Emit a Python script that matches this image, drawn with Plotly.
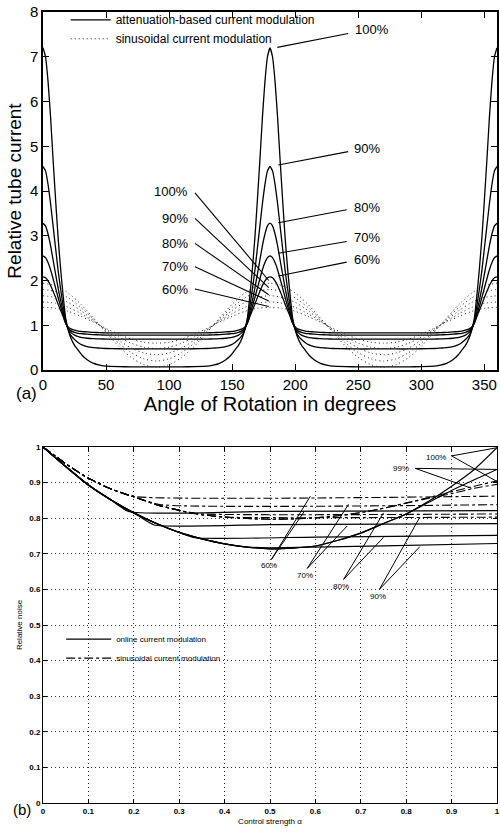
import plotly.graph_objects as go

FONT = "Liberation Sans, Arial, Helvetica, sans-serif"

# ---------------- panel (a) data: one quarter period (0..90 deg), peak at 0 ----------------
quarter_angle = [0, 2, 4, 6, 8, 10, 12, 14, 16, 18, 20, 22, 25, 28, 31, 35, 40, 45, 50, 60, 70, 80, 90]
att_100 = [7.2, 7.0, 6.45, 5.65, 4.7, 3.8, 2.95, 2.25, 1.65, 1.15, 0.9, 0.72, 0.55, 0.44, 0.33, 0.23, 0.15, 0.11, 0.085, 0.075, 0.07, 0.07, 0.07]
att_90 = [4.55, 4.45, 4.15, 3.72, 3.22, 2.72, 2.22, 1.8, 1.42, 1.1, 0.9, 0.78, 0.68, 0.61, 0.56, 0.52, 0.5, 0.49, 0.48, 0.475, 0.47, 0.47, 0.47]
att_80 = [3.28, 3.22, 3.04, 2.78, 2.46, 2.14, 1.83, 1.55, 1.3, 1.07, 0.92, 0.84, 0.78, 0.745, 0.725, 0.71, 0.7, 0.695, 0.69, 0.69, 0.69, 0.69, 0.69]
att_70 = [2.55, 2.51, 2.4, 2.24, 2.04, 1.83, 1.62, 1.42, 1.23, 1.05, 0.94, 0.88, 0.84, 0.82, 0.81, 0.8, 0.79, 0.785, 0.78, 0.78, 0.78, 0.78, 0.78]
att_60 = [2.08, 2.06, 1.99, 1.89, 1.76, 1.62, 1.47, 1.33, 1.19, 1.04, 0.96, 0.92, 0.89, 0.87, 0.86, 0.85, 0.84, 0.835, 0.83, 0.83, 0.83, 0.83, 0.83]

sin_angle = [0, 10, 20, 30, 40, 45, 50, 60, 70, 80, 90]
sin_100 = [1.94, 1.88, 1.72, 1.47, 1.16, 1.0, 0.84, 0.53, 0.28, 0.12, 0.06]
sin_90 = [1.8, 1.75, 1.61, 1.4, 1.14, 1.0, 0.86, 0.6, 0.39, 0.25, 0.2]
sin_80 = [1.66, 1.62, 1.51, 1.33, 1.11, 1.0, 0.89, 0.67, 0.49, 0.38, 0.34]
sin_70 = [1.52, 1.49, 1.4, 1.26, 1.09, 1.0, 0.91, 0.74, 0.6, 0.51, 0.48]
sin_60 = [1.4, 1.38, 1.31, 1.2, 1.07, 1.0, 0.93, 0.8, 0.69, 0.62, 0.6]

levels = ["100%", "90%", "80%", "70%", "60%"]

# ---------------- panel (b) data ----------------
alpha = [0, 0.05, 0.1, 0.15, 0.2, 0.25, 0.3, 0.35, 0.4, 0.45, 0.5, 0.55, 0.6, 0.65, 0.7, 0.75, 0.8, 0.85, 0.9, 0.95, 1.0]
online_100 = [1.0, 0.945, 0.893, 0.851, 0.815, 0.785, 0.76, 0.742, 0.728, 0.719, 0.714, 0.716, 0.722, 0.738, 0.758, 0.785, 0.812, 0.848, 0.89, 0.937, 0.998]
online_99 = [1.0, 0.945, 0.893, 0.851, 0.815, 0.785, 0.76, 0.742, 0.728, 0.719, 0.714, 0.716, 0.722, 0.738, 0.758, 0.785, 0.812, 0.845, 0.878, 0.908, 0.937]
sinus_100 = [1.0, 0.953, 0.912, 0.882, 0.86, 0.838, 0.822, 0.81, 0.803, 0.799, 0.797, 0.798, 0.801, 0.807, 0.816, 0.828, 0.843, 0.858, 0.874, 0.89, 0.905]
sinus_99 = [1.0, 0.953, 0.912, 0.882, 0.86, 0.838, 0.822, 0.81, 0.803, 0.799, 0.797, 0.798, 0.801, 0.807, 0.816, 0.828, 0.842, 0.856, 0.869, 0.884, 0.895]

online_60_a = [0, 0.05, 0.1, 0.15, 0.19, 0.5, 1.0]
online_60_v = [1.0, 0.945, 0.893, 0.851, 0.818, 0.819, 0.821]
online_70_a = [0, 0.05, 0.1, 0.15, 0.2, 0.245, 0.5, 1.0]
online_70_v = [1.0, 0.945, 0.893, 0.851, 0.815, 0.781, 0.782, 0.785]
online_80_a = [0, 0.05, 0.1, 0.15, 0.2, 0.25, 0.3, 0.335, 0.6, 1.0]
online_80_v = [1.0, 0.945, 0.893, 0.851, 0.815, 0.785, 0.76, 0.745, 0.747, 0.752]
online_90_a = [0, 0.05, 0.1, 0.15, 0.2, 0.25, 0.3, 0.35, 0.4, 0.45, 0.5, 0.75, 1.0]
online_90_v = [1.0, 0.945, 0.893, 0.851, 0.815, 0.785, 0.76, 0.742, 0.728, 0.719, 0.717, 0.722, 0.729]

sinus_60_a = [0, 0.05, 0.1, 0.15, 0.2, 1.0]
sinus_60_v = [1.0, 0.953, 0.912, 0.882, 0.861, 0.862]
sinus_70_a = [0, 0.05, 0.1, 0.15, 0.2, 0.26, 1.0]
sinus_70_v = [1.0, 0.953, 0.912, 0.882, 0.86, 0.838, 0.838]
sinus_80_a = [0, 0.05, 0.1, 0.15, 0.2, 0.25, 0.3, 0.33, 1.0]
sinus_80_v = [1.0, 0.953, 0.912, 0.882, 0.86, 0.838, 0.822, 0.813, 0.812]
sinus_90_a = [0, 0.05, 0.1, 0.15, 0.2, 0.25, 0.3, 0.35, 0.4, 1.0]
sinus_90_v = [1.0, 0.953, 0.912, 0.882, 0.86, 0.838, 0.822, 0.81, 0.803, 0.803]

# ---------------- label / leader-line anchors ----------------
a_right_text = [(261, 7.6), (257, 4.96), (257, 3.64), (257, 2.95), (257, 2.46)]
a_right_lead = [((185.8, 7.21), (242, 7.52)), ((186.6, 4.58), (242, 4.88)), ((186.6, 3.29), (240.8, 3.58)),
                ((186.6, 2.61), (240.8, 2.87)), ((186.6, 2.10), (240.8, 2.41))]
a_left_text = [(101.5, 3.98), (104.7, 3.39), (104.7, 2.83), (104.7, 2.31), (104.7, 1.79)]
a_left_lead = [((120.5, 3.96), (179, 2.0)), ((120.5, 3.39), (179, 1.84)), ((120.5, 2.83), (179, 1.68)),
               ((120.5, 2.31), (179, 1.54)), ((120.5, 1.81), (179, 1.42))]

b_labels = ["60%", "70%", "80%", "90%", "100%", "99%"]
b_text = [(0.498, 0.666), (0.578, 0.639), (0.657, 0.609), (0.737, 0.581), (0.865, 0.970), (0.789, 0.940)]
b_lead_start = [(0.503, 0.684), (0.582, 0.659), (0.662, 0.628), (0.741, 0.600), (0.9, 0.975), (0.82, 0.94)]
b_lead_ends = [[(0.589, 0.862), (0.575, 0.818)], [(0.673, 0.839), (0.67, 0.778)], [(0.75, 0.815), (0.75, 0.746)],
               [(0.83, 0.803), (0.83, 0.72)], [(1.0, 0.998), (1.0, 0.903)], [(1.0, 0.937), (0.944, 0.884)]]


def full_period(q, v):
    ang = list(q) + [180 - a for a in reversed(q[:-1])]
    val = list(v) + list(reversed(v[:-1]))
    ang = ang + [180 + a for a in ang[1:]]
    val = val + val[1:]
    return ang, val


fig = go.Figure()

# panel (a) curves
for i, ys in enumerate([att_100, att_90, att_80, att_70, att_60]):
    x, y = full_period(quarter_angle, ys)
    fig.add_trace(go.Scatter(x=x, y=y, mode="lines", line=dict(color="black", width=1.3, shape="spline", smoothing=0.4),
                             name="attenuation-based current modulation", legendgroup="att",
                             showlegend=(i == 0), legend="legend", xaxis="x", yaxis="y", hoverinfo="skip"))
for i, ys in enumerate([sin_100, sin_90, sin_80, sin_70, sin_60]):
    x, y = full_period(sin_angle, ys)
    fig.add_trace(go.Scatter(x=x, y=y, mode="lines", line=dict(color="#222", width=1, dash="1px,3px", shape="spline", smoothing=0.8),
                             name="sinusoidal current modulation", legendgroup="sin",
                             showlegend=(i == 0), legend="legend", xaxis="x", yaxis="y", hoverinfo="skip"))

# panel (a) leader lines
for (p0, p1) in a_right_lead + a_left_lead:
    fig.add_trace(go.Scatter(x=[p0[0], p1[0]], y=[p0[1], p1[1]], mode="lines", line=dict(color="black", width=1.1),
                             showlegend=False, xaxis="x", yaxis="y", hoverinfo="skip"))

# panel (b) curves
online_sets = [(alpha, online_100), (alpha, online_99), (online_60_a, online_60_v), (online_70_a, online_70_v),
               (online_80_a, online_80_v), (online_90_a, online_90_v)]
for i, (xa, ya) in enumerate(online_sets):
    fig.add_trace(go.Scatter(x=xa, y=ya, mode="lines", line=dict(color="black", width=1.2, shape="spline", smoothing=0.5),
                             name="online current modulation", legendgroup="on", showlegend=(i == 0),
                             legend="legend2", xaxis="x2", yaxis="y2", hoverinfo="skip"))
sinus_sets = [(alpha, sinus_100), (alpha, sinus_99), (sinus_60_a, sinus_60_v), (sinus_70_a, sinus_70_v),
              (sinus_80_a, sinus_80_v), (sinus_90_a, sinus_90_v)]
for i, (xa, ya) in enumerate(sinus_sets):
    fig.add_trace(go.Scatter(x=xa, y=ya, mode="lines", line=dict(color="black", width=1.1, dash="dashdot", shape="spline", smoothing=0.5),
                             name="sinusoidal current modulation", legendgroup="sn", showlegend=(i == 0),
                             legend="legend2", xaxis="x2", yaxis="y2", hoverinfo="skip"))

for s, ends in zip(b_lead_start, b_lead_ends):
    for e in ends:
        fig.add_trace(go.Scatter(x=[s[0], e[0]], y=[s[1], e[1]], mode="lines", line=dict(color="black", width=1),
                                 showlegend=False, xaxis="x2", yaxis="y2", hoverinfo="skip", cliponaxis=False))

annotations = []
for lab, (tx, ty) in zip(levels, a_right_text):
    annotations.append(dict(x=tx, y=ty, xref="x", yref="y", text=lab, showarrow=False,
                            font=dict(family=FONT, size=13, color="black")))
for lab, (tx, ty) in zip(levels, a_left_text):
    annotations.append(dict(x=tx, y=ty, xref="x", yref="y", text=lab, showarrow=False,
                            font=dict(family=FONT, size=13, color="black")))
for lab, (tx, ty) in zip(b_labels, b_text):
    annotations.append(dict(x=tx, y=ty, xref="x2", yref="y2", text=lab, showarrow=False,
                            font=dict(family=FONT, size=8, color="black")))
annotations.append(dict(x=-0.064, y=0.518, xref="paper", yref="paper", text="(a)", showarrow=False,
                        font=dict(family=FONT, size=17, color="black")))
annotations.append(dict(x=-0.07, y=-0.022, xref="paper", yref="paper", text="(b)", showarrow=False,
                        font=dict(family=FONT, size=15, color="black")))

top_dom = [(803 - 370) / 791, 1.0]
bot_dom = [0.0, (803 - 447) / 791]

axis_common = dict(showline=True, linecolor="black", mirror="ticks", ticks="inside", tickcolor="black", zeroline=False)

fig.update_layout(
    width=500, height=833,
    margin=dict(l=43, r=1, t=12, b=30),
    paper_bgcolor="white", plot_bgcolor="white",
    font=dict(family=FONT, color="black"),
    xaxis=dict(domain=[0, 1], anchor="y", range=[0, 360], tickvals=[0, 50, 100, 150, 200, 250, 300, 350],
               ticklen=6, linewidth=1.5, showgrid=False, tickfont=dict(size=15),
               title=dict(text="Angle of Rotation in degrees", font=dict(size=20), standoff=0), **axis_common),
    yaxis=dict(domain=top_dom, anchor="x", range=[0, 8], tickvals=list(range(9)), ticklen=6, linewidth=1.5,
               showgrid=False, tickfont=dict(size=15),
               title=dict(text="Relative tube current", font=dict(size=19), standoff=3), **axis_common),
    xaxis2=dict(domain=[0, 1], anchor="y2", range=[0, 1], tickvals=[i / 10 for i in range(11)],
                ticktext=["0", "0.1", "0.2", "0.3", "0.4", "0.5", "0.6", "0.7", "0.8", "0.9", "1"],
                ticklen=4, linewidth=1, showgrid=True, gridcolor="#333", griddash="1px,3px", gridwidth=1,
                tickfont=dict(size=8, weight="bold"),
                title=dict(text="Control strength α", font=dict(size=8), standoff=3), **axis_common),
    yaxis2=dict(domain=bot_dom, anchor="x2", range=[0, 1], tickvals=[i / 10 for i in range(11)],
                ticktext=["0", "0.1", "0.2", "0.3", "0.4", "0.5", "0.6", "0.7", "0.8", "0.9", "1"],
                ticklen=4, linewidth=1, showgrid=True, gridcolor="#333", griddash="1px,3px", gridwidth=1,
                tickfont=dict(size=8, weight="bold"),
                title=dict(text="Relative noise", font=dict(size=8), standoff=5), **axis_common),
    legend=dict(x=0.05, y=1.0085, xanchor="left", yanchor="top", bgcolor="rgba(0,0,0,0)", borderwidth=0,
                font=dict(size=12), tracegroupgap=0, itemwidth=40),
    legend2=dict(x=0.04, y=0.2255, xanchor="left", yanchor="top", bgcolor="rgba(0,0,0,0)", borderwidth=0,
                 font=dict(size=8), tracegroupgap=0, itemwidth=45),
    annotations=annotations,
    showlegend=True,
)

fig.write_html("out.html")
